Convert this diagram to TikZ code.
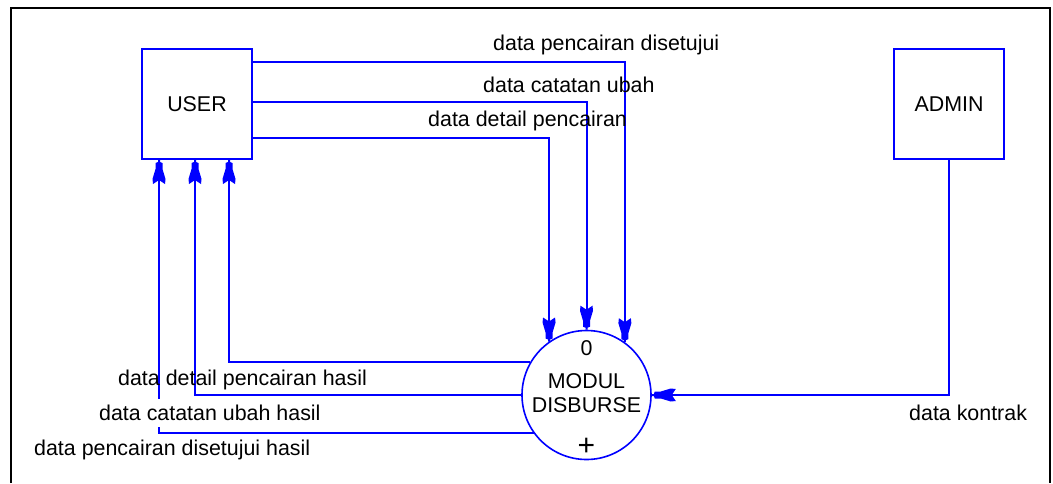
\documentclass[tikz,border=0pt]{standalone}
\usepackage{fontspec}
\setmainfont{Liberation Sans}
\usetikzlibrary{arrows.meta,calc}
% data-flow arrow head: short stem, narrow neck, flared body with a notched back
\pgfdeclarearrow{
  name=DFDHead,
  setup code={
    \pgfarrowssettipend{0pt}
    \pgfarrowssetbackend{-24pt}
    \pgfarrowssetlineend{-18pt}
    \pgfarrowshullpoint{0pt}{0pt}
    \pgfarrowshullpoint{-24pt}{7pt}
    \pgfarrowshullpoint{-24pt}{-7pt}
  },
  drawing code={
    \pgfpathmoveto{\pgfpoint{0pt}{1pt}}
    \pgfpathlineto{\pgfpoint{-2pt}{1pt}}
    \pgfpathlineto{\pgfpoint{-3pt}{3.5pt}}
    \pgfpathlineto{\pgfpoint{-9pt}{3.5pt}}
    \pgfpathlineto{\pgfpoint{-19pt}{6.5pt}}
    \pgfpathlineto{\pgfpoint{-24pt}{6pt}}
    \pgfpathlineto{\pgfpoint{-20pt}{0pt}}
    \pgfpathlineto{\pgfpoint{-24pt}{-6pt}}
    \pgfpathlineto{\pgfpoint{-19pt}{-6.5pt}}
    \pgfpathlineto{\pgfpoint{-9pt}{-3.5pt}}
    \pgfpathlineto{\pgfpoint{-3pt}{-3.5pt}}
    \pgfpathlineto{\pgfpoint{-2pt}{-1pt}}
    \pgfpathlineto{\pgfpoint{0pt}{-1pt}}
    \pgfpathclose
    \pgfusepathqfill
  }
}
\tikzset{
  ent/.style={draw=blue, line width=2pt, minimum width=110pt, minimum height=110pt,
    inner sep=0pt, font=\fontsize{21.4}{25}\selectfont},
  proc/.style={circle, draw=blue, line width=1.6pt, minimum size=129pt, inner sep=0pt},
  flow/.style={draw=blue, line width=2pt, -{DFDHead}},
  lbl/.style={inner sep=0pt, anchor=west, font=\fontsize{21.4}{25}\selectfont, text=black},
  ptxt/.style={inner sep=0pt, font=\fontsize{21.4}{25}\selectfont, text=black}
}
\begin{document}
\begin{tikzpicture}[x=1pt,y=-1pt]
\useasboundingbox (0,0) rectangle (1053,483);
% outer frame (open at the bottom edge of the page)
\draw[line width=2pt, black] (11,483) -- (11,8) -- (1050,8) -- (1050,483);

% external entities
\node[ent] (user)  at (197,104) {USER};
\node[ent] (admin) at (949,104) {ADMIN};

% process
\node[proc] (proc) at (586.5,395) {};
\node[ptxt] (pnum)  at (586.5,348) {0};
\node[ptxt] (pname) at (586.5,395) {\begin{tabular}{@{}c@{}}MODUL\\[-1pt]DISBURSE\end{tabular}};
\node[ptxt, font=\fontsize{30}{30}\selectfont] (pplus) at (586.5,447) {+};

% entry points on the bottom side of USER
\coordinate (u1) at ($(user.south)+(32,0)$);
\coordinate (u2) at ($(user.south)+(-2,0)$);
\coordinate (u3) at ($(user.south)+(-38,0)$);
% exit points on the left side of the process
\coordinate (p1) at (proc.150.6);
\coordinate (p2) at (proc.west);
\coordinate (p3) at (proc.216.5);

% flows USER -> process
\draw[flow] (user.east |- 0,62)  -| (proc.54);
\draw[flow] (user.east |- 0,102) -| (proc.north);
\draw[flow] (user.east |- 0,138) -| (proc.125);

% flows process -> USER
\draw[flow] (p1) -| (u1);
\draw[flow] (p2) -| (u2);
\draw[flow] (p3) -| (u3);

% flow ADMIN -> process
\draw[flow] (admin.south) |- (proc.east);

% flow labels
\node[lbl] (l1) at (493,45)  {data pencairan disetujui};
\node[lbl] (l2) at (483,85)  {data catatan ubah};
\node[lbl] (l3) at (428,121) {data detail pencairan};
\node[lbl] (l4) at (118,380) {data detail pencairan hasil};
\node[lbl, fill=white, inner ysep=6pt] (l5) at (99,413) {data catatan ubah hasil};
\node[lbl] (l6) at (34,450)  {data pencairan disetujui hasil};
\node[lbl] (l7) at (909,413) {data kontrak};
\end{tikzpicture}
\end{document}
